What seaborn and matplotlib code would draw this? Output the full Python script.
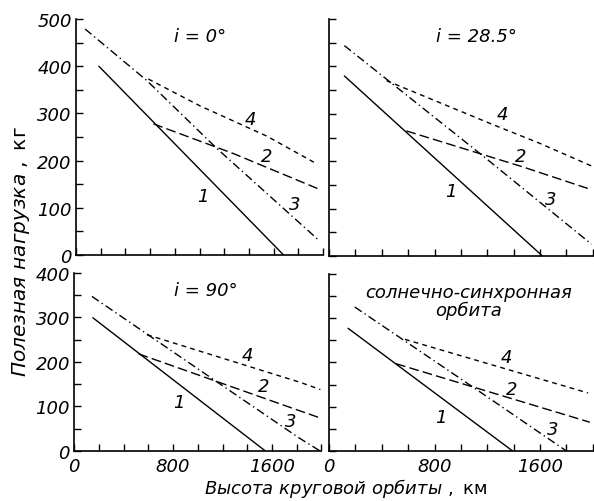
import matplotlib
matplotlib.use("Agg")
import matplotlib.pyplot as plt
import seaborn as sns
import pandas as pd
from matplotlib.ticker import MultipleLocator

# --- data (x: altitude, km; y: payload, kg) ---
titles = ["i = 0°", "i = 28.5°", "i = 90°", "солнечно-синхронная\nорбита"]

# i = 0
p0_x1 = [185, 1680];            p0_y1 = [400, 0]
p0_x2 = [626, 1274, 1981];      p0_y2 = [278, 215, 138]
p0_x3 = [73, 572, 1139, 1962];  p0_y3 = [479, 370, 226, 32]
p0_x4 = [585, 1004, 1544, 1943]; p0_y4 = [373, 316, 252, 194]
# i = 28.5
p1_x1 = [116, 1618];            p1_y1 = [380, 0]
p1_x2 = [586, 1470, 1990];      p1_y2 = [264, 188, 140]
p1_x3 = [116, 1168, 1990];      p1_y3 = [444, 211, 25]
p1_x4 = [436, 1219, 1596, 1990]; p1_y4 = [370, 280, 238, 190]
# i = 90
p2_x1 = [151, 1547];            p2_y1 = [299, 0]
p2_x2 = [521, 1776, 1992];      p2_y2 = [218, 95, 74]
p2_x3 = [143, 1182, 1816, 1990]; p2_y3 = [347, 150, 30, 0]
p2_x4 = [589, 1830, 1992];      p2_y4 = [261, 154, 138]
# sun-synchronous
p3_x1 = [144, 1392];            p3_y1 = [277, 0]
p3_x2 = [508, 1977];            p3_y2 = [197, 65]
p3_x3 = [195, 1117, 1800];      p3_y3 = [325, 139, 0]
p3_x4 = [575, 1470, 1964];      p3_y4 = [252, 174, 131]

panels = [
    [(p0_x1, p0_y1), (p0_x2, p0_y2), (p0_x3, p0_y3), (p0_x4, p0_y4)],
    [(p1_x1, p1_y1), (p1_x2, p1_y2), (p1_x3, p1_y3), (p1_x4, p1_y4)],
    [(p2_x1, p2_y1), (p2_x2, p2_y2), (p2_x3, p2_y3), (p2_x4, p2_y4)],
    [(p3_x1, p3_y1), (p3_x2, p3_y2), (p3_x3, p3_y3), (p3_x4, p3_y4)],
]

ymax = [500, 500, 400, 400]
curve_names = ["1", "2", "3", "4"]
# label positions of the curve numbers (data coords), per panel
lab_x = [[1030, 1544, 1773, 1409], [926, 1455, 1681, 1317],
         [845, 1533, 1749, 1398], [851, 1381, 1697, 1344]]
lab_y = [[126, 210, 108, 288], [138, 212, 120, 300],
         [110, 147, 68, 215], [77, 141, 50, 212]]
title_x = [1004, 1115, 1061, 1056]
title_y = [465, 465, 361, 339]

sns.set_style("ticks")
plt.rcParams["font.family"] = ["DejaVu Sans"]
plt.rcParams["mathtext.fontset"] = "dejavusans"
for key in ["text.color", "axes.labelcolor", "xtick.color", "ytick.color",
            "axes.edgecolor"]:
    plt.rcParams[key] = "black"

fig = plt.figure(figsize=(5.94, 5.02), dpi=100)
rects = [
    [0.128, 0.490, 0.416, 0.470],
    [0.554, 0.488, 0.444, 0.472],
    [0.125, 0.0996, 0.416, 0.355],
    [0.554, 0.0996, 0.444, 0.353],
]
dash_map = {"1": "", "2": (7, 3), "3": (6, 2.5, 1, 2.5), "4": (3.5, 3)}

for k in range(4):
    ax = fig.add_axes(rects[k])
    rows = []
    for name, (xs, ys) in zip(curve_names, panels[k]):
        for xv, yv in zip(xs, ys):
            rows.append({"x": xv, "y": yv, "curve": name})
    df = pd.DataFrame(rows)
    sns.lineplot(data=df, x="x", y="y", style="curve", dashes=dash_map,
                 color="black", linewidth=1, estimator=None, sort=False,
                 legend=False, ax=ax)
    ax.set_xlim(0, 2000)
    ax.set_ylim(0, ymax[k])
    ax.xaxis.set_major_locator(MultipleLocator(800))
    ax.xaxis.set_minor_locator(MultipleLocator(200))
    ax.yaxis.set_major_locator(MultipleLocator(100))
    ax.yaxis.set_minor_locator(MultipleLocator(50))
    ax.tick_params(which="both", direction="in", length=5, width=1,
                   labelsize=13)
    ax.tick_params(axis="x", which="major", pad=4.5)
    ax.tick_params(axis="y", which="major", pad=3)
    for lbl in ax.get_xticklabels() + ax.get_yticklabels():
        lbl.set_fontstyle("italic")
    for s in ["top", "right"]:
        ax.spines[s].set_visible(False)
    for s in ["left", "bottom"]:
        ax.spines[s].set_linewidth(1.2)
    ax.set_xlabel("")
    ax.set_ylabel("")
    if k < 2:
        ax.tick_params(axis="x", labelbottom=False)
    if k % 2 == 1:
        ax.tick_params(axis="y", labelleft=False)
    for j in range(4):
        ax.text(lab_x[k][j], lab_y[k][j], curve_names[j], fontsize=13,
                ha="center", va="center", style="italic")
    ax.text(title_x[k], title_y[k], titles[k], fontsize=13,
            ha="center", va="center", linespacing=1.0, style="italic")

fig.text(0.035, 0.498,
         r"$\mathit{Полезная\ нагрузка\ ,}\ \mathrm{кг}$",
         rotation=90, ha="center", va="center", fontsize=14.5)
fig.text(0.581, 0.026,
         r"$\mathit{Высота\ круговой\ орбиты\ ,}\ \mathrm{км}$",
         ha="center", va="center", fontsize=13)

fig.savefig("out.png", dpi=100, facecolor="white")
